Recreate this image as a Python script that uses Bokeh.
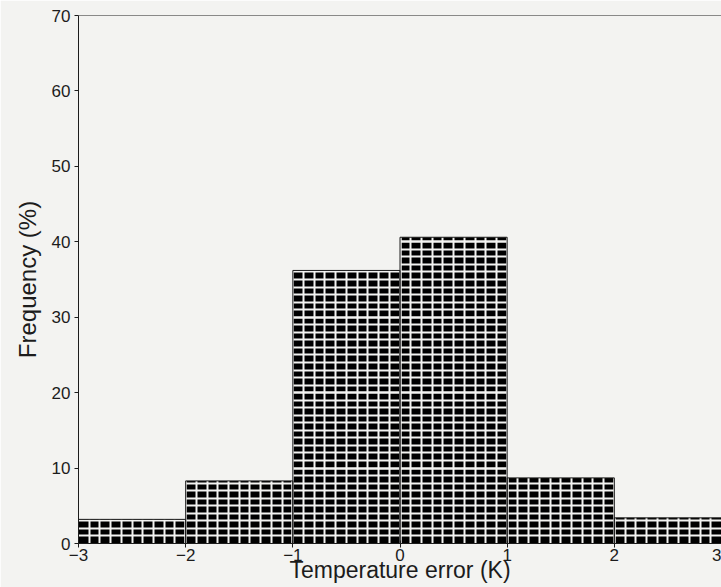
from bokeh.plotting import figure
from bokeh.models import Range1d, SingleIntervalTicker, Span
from bokeh.embed import file_html
from bokeh.resources import INLINE

# ---- data ----
bin_left = [-3, -2, -1, 0, 1, 2]
bin_right = [-2, -1, 0, 1, 2, 3]
frequency = [3.2, 8.3, 36.2, 40.6, 8.7, 3.4]   # percent

x_label = "Temperature error (K)"
y_label = "Frequency (%)"

BG = "#f3f3f1"
INK = "#1c1c1c"
FONT = "Liberation Sans"

p = figure(width=721, height=587, output_backend="svg", toolbar_location=None,
           x_range=Range1d(-3, 3), y_range=Range1d(0, 70),
           min_border_left=78, min_border_top=15, min_border_right=0,
           min_border_bottom=44)
p.background_fill_color = BG
p.border_fill_color = BG
p.outline_line_color = None

xt = SingleIntervalTicker(interval=1, num_minor_ticks=10)
yt = SingleIntervalTicker(interval=10, num_minor_ticks=10)
p.xaxis.ticker = xt
p.yaxis.ticker = yt
p.xgrid.ticker = xt
p.ygrid.ticker = yt

# bars: solid black, cut into dashes by background-coloured grid lines
bars = p.quad(left=bin_left, right=bin_right, bottom=0, top=frequency,
              fill_color="#000000", line_color=None)
bars.level = "image"
p.xgrid.grid_line_width = 2
p.xgrid.minor_grid_line_width = 2
p.ygrid.grid_line_width = 2
p.ygrid.minor_grid_line_width = 2
for g in (p.xgrid, p.ygrid):
    g.grid_line_color = BG
    g.minor_grid_line_color = BG
    g.level = "underlay"
p.quad(left=bin_left, right=bin_right, bottom=0, top=frequency,
       fill_color=None, line_color=INK, line_width=1)

# axes
for ax in (p.xaxis[0], p.yaxis[0]):
    ax.axis_line_color = INK
    ax.major_tick_line_color = INK
    ax.minor_tick_line_color = None
    ax.major_label_text_font = FONT
    ax.major_label_text_color = INK
    ax.axis_label_text_font = FONT
    ax.axis_label_text_font_style = "normal"
    ax.axis_label_text_color = INK

p.xaxis.axis_label = x_label
p.xaxis.major_tick_in = 3
p.xaxis.major_tick_out = 4
p.xaxis.major_label_standoff = 1
p.xaxis.major_label_text_font_size = "17px"
p.xaxis.axis_label_text_font_size = "23px"
p.xaxis.axis_label_standoff = -7
p.xaxis.axis_label_text_line_height = 0.8

p.yaxis.axis_label = y_label
p.yaxis.major_tick_in = 0
p.yaxis.major_tick_out = 4
p.yaxis.major_label_standoff = 4
p.yaxis.major_label_text_font_size = "17px"
p.yaxis.axis_label_text_font_size = "24px"
p.yaxis.axis_label_standoff = 8

# top frame line
p.add_layout(Span(location=70, dimension="width", line_color=INK, line_width=1))

open("out.html", "w").write(file_html(p, INLINE))
